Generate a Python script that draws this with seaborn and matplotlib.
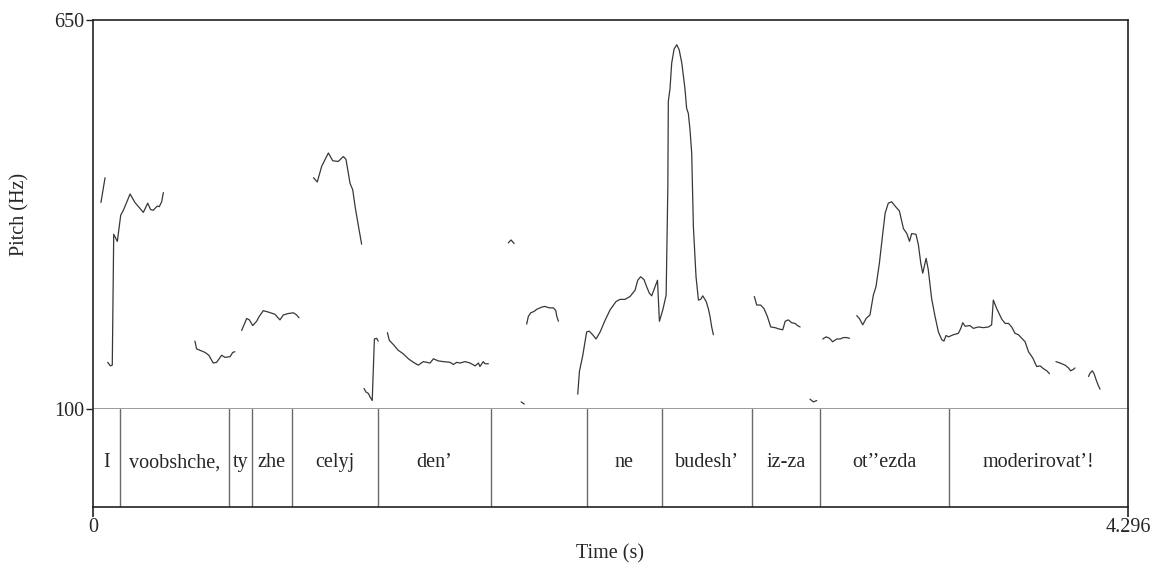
import numpy as np
import pandas as pd
import matplotlib
matplotlib.use("Agg")
import matplotlib.pyplot as plt
import seaborn as sns

# ---------------- data ----------------
T_MAX = 4.296
F_MIN, F_MAX = 100, 650

tier_bounds = [0.0, 0.114, 0.565, 0.658, 0.828, 1.183, 1.652, 2.051, 2.360, 2.735, 3.018, 3.553, 4.296]
tier_labels = ["I", "voobshche,", "ty", "zhe", "celyj", "den\u2019", "", "ne", "budesh\u2019",
               "iz-za", "ot\u2019\u2019ezda", "moderirovat\u2019!"]

s01_t = [0.033, 0.050]
s01_f = [392, 427]
s02_t = [0.061, 0.072, 0.080, 0.086, 0.101, 0.115, 0.126, 0.154, 0.174, 0.209, 0.227, 0.239, 0.250, 0.267, 0.275, 0.285, 0.292]
s02_f = [166, 161, 162, 347, 337, 374, 381, 404, 392, 378, 391, 382, 381, 387, 386, 393, 406]
s03_t = [0.423, 0.430, 0.444, 0.465, 0.481, 0.499, 0.513, 0.534, 0.548, 0.569, 0.580, 0.589]
s03_f = [196, 185, 183, 180, 176, 165, 166, 176, 173, 174, 180, 181]
s04_t = [0.617, 0.638, 0.649, 0.663, 0.679, 0.690, 0.707, 0.728, 0.755, 0.776, 0.790, 0.811, 0.832, 0.845, 0.855]
s04_f = [211, 228, 226, 218, 224, 231, 239, 237, 234, 226, 233, 235, 236, 233, 229]
s05_t = [0.915, 0.931, 0.949, 0.977, 0.995, 1.018, 1.039, 1.050, 1.067, 1.078, 1.088, 1.101, 1.115]
s05_f = [427, 421, 443, 462, 451, 450, 457, 453, 419, 410, 386, 360, 333]
s06_t = [1.125, 1.133, 1.143, 1.150, 1.159, 1.168, 1.177, 1.184]
s06_f = [129, 124, 122, 117, 112, 199, 200, 196]
s07_t = [1.222, 1.230, 1.247, 1.267, 1.288, 1.309, 1.330, 1.350, 1.371, 1.399, 1.413, 1.433, 1.454,
         1.482, 1.496, 1.510, 1.523, 1.544, 1.565, 1.586, 1.600, 1.606, 1.620, 1.627, 1.641]
s07_f = [208, 197, 191, 183, 178, 171, 166, 162, 167, 165, 171, 168, 167,
         166, 163, 166, 165, 167, 165, 161, 165, 160, 167, 164, 164]
s08_t = [1.724, 1.735, 1.748]
s08_f = [335, 339, 334]
s09_t = [1.777, 1.790]
s09_f = [110, 107]
s10_t = [1.800, 1.807, 1.817, 1.831, 1.842, 1.862, 1.876, 1.894, 1.911, 1.921, 1.925, 1.932]
s10_f = [220, 231, 236, 238, 241, 244, 245, 243, 243, 239, 231, 224]
s11_t = [2.012, 2.019, 2.033, 2.049, 2.060, 2.074, 2.088, 2.105, 2.125, 2.146, 2.171, 2.188, 2.208,
         2.229, 2.250, 2.261, 2.273, 2.287, 2.298, 2.309, 2.319, 2.333, 2.343, 2.351, 2.365, 2.379,
         2.381, 2.386, 2.388, 2.395, 2.402, 2.412, 2.423, 2.433, 2.444, 2.457, 2.464, 2.471, 2.478,
         2.485, 2.492, 2.503, 2.513, 2.522, 2.531, 2.545, 2.554, 2.561, 2.568, 2.575]
s11_f = [121, 153, 176, 209, 210, 205, 199, 209, 225, 240, 252, 255, 255,
         259, 268, 282, 287, 283, 273, 264, 260, 273, 282, 224, 240, 261,
         306, 414, 535, 553, 589, 609, 615, 608, 589, 553, 525, 518, 495,
         462, 358, 287, 254, 255, 260, 252, 242, 231, 216, 205]
s12_t = [2.745, 2.755, 2.771, 2.785, 2.799, 2.813, 2.831, 2.849, 2.863, 2.873, 2.886, 2.900, 2.914, 2.924, 2.935]
s12_f = [259, 247, 247, 242, 231, 216, 215, 213, 212, 224, 226, 222, 221, 218, 216]
s13_t = [2.976, 2.990, 3.004]
s13_f = [114, 110, 112]
s14_t = [3.029, 3.043, 3.057, 3.070, 3.087, 3.101, 3.115, 3.128, 3.140]
s14_f = [199, 202, 200, 195, 199, 199, 201, 201, 200]
s15_t = [3.170, 3.181, 3.195, 3.209, 3.225, 3.239, 3.250, 3.264, 3.278, 3.288, 3.301, 3.315, 3.329,
         3.347, 3.364, 3.378, 3.389, 3.398, 3.416, 3.426, 3.436, 3.444, 3.458, 3.467, 3.481, 3.495,
         3.509, 3.523, 3.532, 3.541, 3.551, 3.571, 3.592, 3.602, 3.610, 3.620, 3.640, 3.654, 3.675,
         3.696, 3.717, 3.730, 3.737, 3.751, 3.772, 3.786, 3.800, 3.813, 3.827, 3.841, 3.855, 3.869,
         3.883, 3.901, 3.917, 3.931, 3.945, 3.959, 3.970]
s15_f = [232, 228, 219, 228, 233, 261, 273, 306, 348, 377, 391, 393, 387,
         380, 355, 348, 337, 348, 347, 332, 306, 292, 313, 297, 256, 231,
         209, 198, 196, 204, 202, 205, 207, 214, 222, 217, 218, 214, 216,
         215, 216, 219, 254, 242, 227, 221, 221, 216, 207, 205, 200, 195,
         181, 172, 160, 161, 157, 154, 150]
s16_t = [3.997, 4.014, 4.035, 4.049, 4.058, 4.069, 4.076]
s16_f = [167, 165, 162, 158, 154, 156, 158]
s17_t = [4.132, 4.139, 4.148, 4.155, 4.164, 4.173, 4.180]
s17_f = [146, 151, 154, 150, 141, 133, 128]

segments_t = [s01_t, s02_t, s03_t, s04_t, s05_t, s06_t, s07_t, s08_t, s09_t, s10_t,
              s11_t, s12_t, s13_t, s14_t, s15_t, s16_t, s17_t]
segments_f = [s01_f, s02_f, s03_f, s04_f, s05_f, s06_f, s07_f, s08_f, s09_f, s10_f,
              s11_f, s12_f, s13_f, s14_f, s15_f, s16_f, s17_f]

rows = []
for i, (ts, fs) in enumerate(zip(segments_t, segments_f)):
    for t, f in zip(ts, fs):
        rows.append({"time": t, "pitch": f, "seg": i})
df = pd.DataFrame(rows)

# ---------------- figure ----------------
sns.set_theme(style="white")
plt.rcParams["font.family"] = ["Liberation Serif", "DejaVu Serif"]
FS = 14.5

W, H = 1155, 565
fig = plt.figure(figsize=(W / 100, H / 100), dpi=100)
left, right = 93, 1128
top, mid, bot = 20, 409, 507
ax = fig.add_axes([left / W, 1 - mid / H, (right - left) / W, (mid - top) / H])
ax2 = fig.add_axes([left / W, 1 - bot / H, (right - left) / W, (bot - mid) / H], sharex=ax)

sns.lineplot(data=df, x="time", y="pitch", units="seg", estimator=None, sort=False,
             color="#383838", lw=0.9, ax=ax, legend=False)

ax.set_xlim(0, T_MAX)
ax.set_ylim(F_MIN, F_MAX)
ax.set_yticks([F_MIN, F_MAX])
ax.set_yticklabels([str(F_MIN), str(F_MAX)], fontsize=FS)
ax.tick_params(axis="y", direction="out", length=5, width=1, color="#222", pad=1, left=True)
ax.tick_params(axis="x", bottom=False, labelbottom=False)
ax.set_xlabel("")
ax.set_ylabel("Pitch (Hz)", fontsize=FS, labelpad=18)
for s in ["top", "left", "right"]:
    ax.spines[s].set_color("#222")
    ax.spines[s].set_linewidth(1.2)
ax.spines["bottom"].set_color("#8a8a8a")
ax.spines["bottom"].set_linewidth(1.2)

# tier
ax2.set_ylim(0, 1)
ax2.set_yticks([])
for b in tier_bounds[1:-1]:
    ax2.axvline(b, color="#6a6a6a", lw=1.0)
for a, b, lab in zip(tier_bounds[:-1], tier_bounds[1:], tier_labels):
    ax2.text((a + b) / 2, 0.45, lab, ha="center", va="center", fontsize=FS)
ax2.spines["top"].set_visible(False)
for s in ["bottom", "left", "right"]:
    ax2.spines[s].set_color("#222")
    ax2.spines[s].set_linewidth(1.2)
ax2.set_xticks([0, T_MAX])
ax2.set_xticklabels(["0", "4.296"], fontsize=FS)
ax2.tick_params(axis="x", direction="out", length=7, width=1.2, color="#222", pad=1, bottom=True)
ax2.set_xlabel("Time (s)", fontsize=FS, labelpad=5)

fig.savefig("out.png", dpi=100, facecolor="white")
